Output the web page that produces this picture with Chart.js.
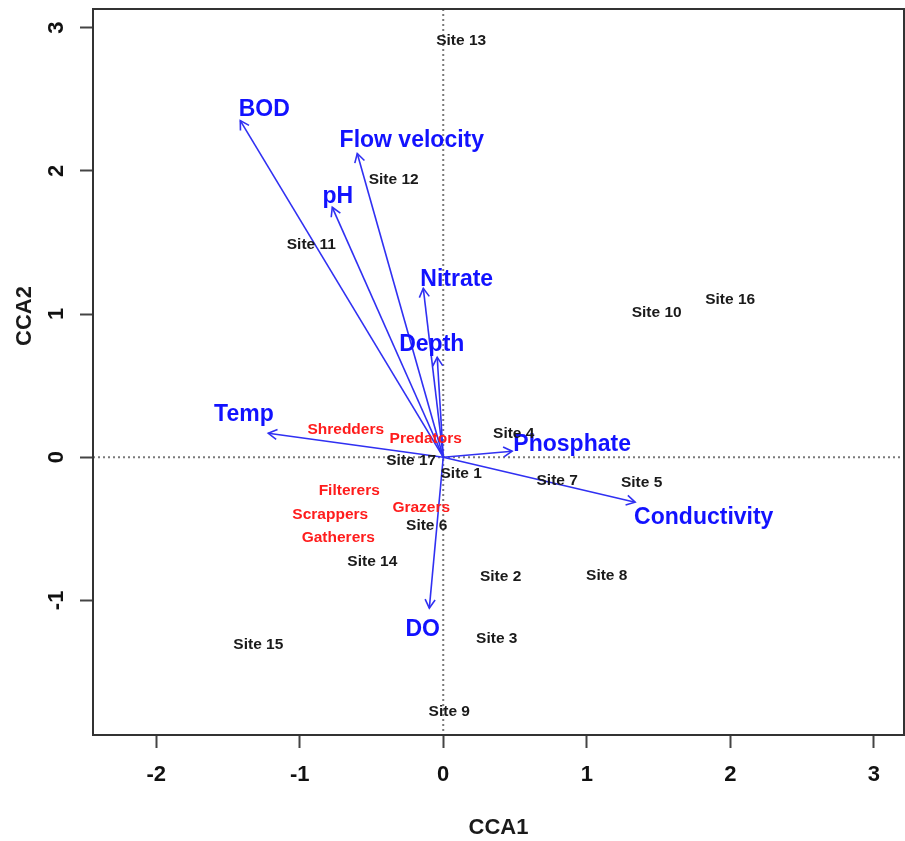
<!DOCTYPE html>
<html><head><meta charset="utf-8">
<script src="https://cdn.jsdelivr.net/npm/chart.js@4/dist/chart.umd.min.js"></script>
<style>html,body{margin:0;padding:0;background:#fff}#wrap{width:905px;height:841px;position:relative}</style>
</head><body><div id="wrap"><canvas id="c" width="905" height="841"></canvas></div>
<script>
// ---- data ----
const xTicks = [-2, -1, 0, 1, 2, 3];
const yTicks = [-1, 0, 1, 2, 3];

const siteNames = ['Site 1','Site 2','Site 3','Site 4','Site 5','Site 6','Site 7','Site 8','Site 9','Site 10','Site 11','Site 12','Site 13','Site 14','Site 15','Site 16','Site 17'];
const siteX = [0.125, 0.40, 0.373, 0.491, 1.382, -0.115, 0.794, 1.139, 0.042, 1.487, -0.919, -0.345, 0.125, -0.494, -1.288, 1.999, -0.223];
const siteY = [-0.105, -0.823, -1.256, 0.174, -0.167, -0.468, -0.154, -0.816, -1.772, 1.019, 1.493, 1.947, 2.92, -0.719, -1.298, 1.11, -0.014];

const speciesNames = ['Shredders','Predators','Filterers','Scrappers','Gatherers','Grazers'];
const speciesX = [-0.679, -0.122, -0.655, -0.787, -0.731, -0.153];
const speciesY = [0.202, 0.14, -0.223, -0.391, -0.551, -0.342];

const envNames = ['BOD','Flow velocity','pH','Nitrate','Depth','Temp','Phosphate','Conductivity','DO'];
const envX = [-1.414, -0.599, -0.773, -0.139, -0.042, -1.219, 0.48, 1.337, -0.097];
const envY = [2.351, 2.121, 1.745, 1.179, 0.698, 0.167, 0.042, -0.314, -1.054];
const envLabelX = [-1.247, -0.219, -0.735, 0.094, -0.08, -1.389, 0.898, 1.815, -0.143];
const envLabelY = [2.442, 2.226, 1.835, 1.256, 0.796, 0.307, 0.098, -0.412, -1.193];

// ---- styles ----
const FONT = '"Liberation Sans", Arial, Helvetica, sans-serif';
const BLUE_LINE = '#3030f2';
const BLUE_TEXT = '#1212ff';
const RED_TEXT = '#ff1c1c';
const SITE_TEXT = '#1a1a1a';

const datasets = [];
envNames.forEach((n, i) => {
  datasets.push({
    kind: 'env', label: n,
    data: [{x: 0, y: 0}, {x: envX[i], y: envY[i]}],
    showLine: true, borderColor: BLUE_LINE, borderWidth: 1.6,
    pointRadius: 0, pointHoverRadius: 0, fill: false
  });
});
datasets.push({ kind: 'envLabels', label: 'env labels',
  data: envNames.map((n, i) => ({x: envLabelX[i], y: envLabelY[i]})), pointRadius: 0, pointHoverRadius: 0 });
datasets.push({ kind: 'sites', label: 'sites',
  data: siteNames.map((n, i) => ({x: siteX[i], y: siteY[i]})), pointRadius: 0, pointHoverRadius: 0 });
datasets.push({ kind: 'species', label: 'species',
  data: speciesNames.map((n, i) => ({x: speciesX[i], y: speciesY[i]})), pointRadius: 0, pointHoverRadius: 0 });

function capText(ctx, txt, x, y, size, color) {
  ctx.font = 'bold ' + size + 'px ' + FONT;
  ctx.fillStyle = color;
  ctx.textAlign = 'center';
  ctx.textBaseline = 'alphabetic';
  ctx.fillText(txt, x, y + 0.716 * size / 2);
}

const overlay = {
  id: 'overlay',
  beforeDatasetsDraw(chart) {
    const {ctx, chartArea: a, scales: {x, y}} = chart;
    const x0 = x.getPixelForValue(0), y0 = y.getPixelForValue(0);
    ctx.save();
    ctx.strokeStyle = '#7a7a7a'; ctx.lineWidth = 2; ctx.setLineDash([2, 3]);
    ctx.beginPath();
    ctx.moveTo(x0, a.top); ctx.lineTo(x0, a.bottom);
    ctx.moveTo(a.left, y0); ctx.lineTo(a.right, y0);
    ctx.stroke();
    ctx.restore();
  },
  afterDatasetsDraw(chart) {
    const ctx = chart.ctx;
    ctx.save();
    chart.data.datasets.forEach((ds, i) => {
      const pts = chart.getDatasetMeta(i).data;
      if (ds.kind === 'env') {
        const p0 = pts[0], p1 = pts[1];
        const ang = Math.atan2(p1.y - p0.y, p1.x - p0.x);
        const L = 10, h = Math.PI / 6;
        ctx.strokeStyle = BLUE_LINE; ctx.lineWidth = 1.6; ctx.setLineDash([]);
        ctx.beginPath();
        ctx.moveTo(p1.x - L * Math.cos(ang - h), p1.y - L * Math.sin(ang - h));
        ctx.lineTo(p1.x, p1.y);
        ctx.lineTo(p1.x - L * Math.cos(ang + h), p1.y - L * Math.sin(ang + h));
        ctx.stroke();
      }
    });
    chart.data.datasets.forEach((ds, i) => {
      const pts = chart.getDatasetMeta(i).data;
      if (ds.kind === 'sites') pts.forEach((p, j) => capText(ctx, siteNames[j], p.x, p.y, 15.5, SITE_TEXT));
      if (ds.kind === 'species') pts.forEach((p, j) => capText(ctx, speciesNames[j], p.x, p.y, 15.5, RED_TEXT));
      if (ds.kind === 'envLabels') pts.forEach((p, j) => capText(ctx, envNames[j], p.x, p.y, 23, BLUE_TEXT));
    });
    ctx.restore();
  },
  afterDraw(chart) {
    const {ctx, chartArea: a} = chart;
    ctx.save();
    ctx.strokeStyle = '#333'; ctx.lineWidth = 2;
    ctx.strokeRect(a.left, a.top, a.right - a.left, a.bottom - a.top);
    // y axis title
    ctx.translate(25, 316);
    ctx.rotate(-Math.PI / 2);
    ctx.font = 'bold 22px ' + FONT;
    ctx.fillStyle = '#1a1a1a';
    ctx.textAlign = 'center'; ctx.textBaseline = 'middle';
    ctx.fillText('CCA2', 0, 0);
    ctx.restore();
  }
};

new Chart(document.getElementById('c'), {
  type: 'scatter',
  data: { datasets },
  options: {
    responsive: false, animation: false,
    layout: { padding: { top: 9, right: 1, left: 0, bottom: 0 } },
    plugins: { legend: { display: false }, tooltip: { enabled: false } },
    scales: {
      x: {
        type: 'linear', min: -2.44, max: 3.21,
        afterBuildTicks: s => { s.ticks = xTicks.map(v => ({value: v})); },
        afterFit: s => { s.height = 106; s.paddingLeft = 0; s.paddingRight = 0; },
        grid: { drawOnChartArea: false, drawTicks: true, tickLength: 13, tickColor: '#444', tickWidth: 2, color: '#444' },
        border: { display: false },
        ticks: { color: '#111', font: { family: FONT, size: 22, weight: 'bold' }, padding: 14, maxRotation: 0 },
        title: { display: true, text: 'CCA1', color: '#1a1a1a', font: { family: FONT, size: 22, weight: 'bold' }, padding: { top: 0, bottom: 0 } }
      },
      y: {
        type: 'linear', min: -1.94, max: 3.13,
        afterBuildTicks: s => { s.ticks = yTicks.map(v => ({value: v})); },
        afterFit: s => { s.width = 93; s.paddingTop = 0; s.paddingBottom = 0; },
        grid: { drawOnChartArea: false, drawTicks: true, tickLength: 13, tickColor: '#444', tickWidth: 2, color: '#444' },
        border: { display: false },
        ticks: { color: '#111', font: { family: FONT, size: 22, weight: 'bold' }, padding: 13, minRotation: 90, maxRotation: 90, crossAlign: 'center' }
      }
    }
  },
  plugins: [overlay]
});
</script>
</body></html>
